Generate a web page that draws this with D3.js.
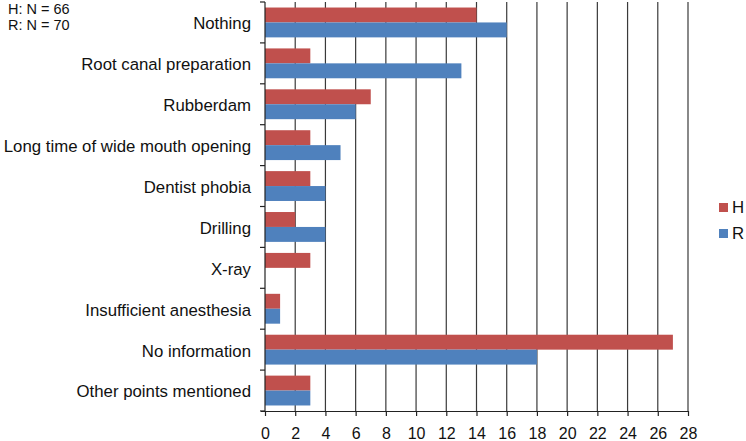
<!DOCTYPE html>
<html><head><meta charset="utf-8">
<script src="https://cdn.jsdelivr.net/npm/d3@7"></script>
<style>body{margin:0;background:#fff}svg{display:block}text{font-family:Arial,"Liberation Sans",sans-serif}</style>
</head><body>
<svg id="c" width="746" height="441"></svg>
<script>
const categories = ["Nothing","Root canal preparation","Rubberdam","Long time of wide mouth opening","Dentist phobia","Drilling","X-ray","Insufficient anesthesia","No information","Other points mentioned"];
const seriesNames = ["H","R"];
const valuesH = [14,3,7,3,3,2,3,1,27,3];
const valuesR = [16,13,6,5,4,4,0,1,18,3];
const xTicks = [0,2,4,6,8,10,12,14,16,18,20,22,24,26,28];
const notes = ["H: N = 66","R: N = 70"];
const colors = {H:"#C0504D", R:"#4F81BD"};

(function(){
const svg = d3.select("#c");
const pL = 265, pR = 688, pT = 2, pB = 411;
const x = d3.scaleLinear().domain([0,28]).range([pL,pR]);
const y = d3.scaleBand().domain(categories).range([pT,pB]).paddingInner(0.27).paddingOuter(0.135);
const inner = d3.scaleBand().domain(seriesNames).range([0,y.bandwidth()]);

svg.append("g").selectAll("line").data(xTicks.slice(1)).join("line")
  .attr("x1",d=>x(d)).attr("x2",d=>x(d)).attr("y1",pT).attr("y2",pB)
  .attr("stroke","#3a3a3a").attr("stroke-width",1.2);

const data = categories.map((c,i)=>({c, H:valuesH[i], R:valuesR[i]}));
const g = svg.append("g");
seriesNames.forEach(s=>{
  g.selectAll(".b"+s).data(data).join("rect").attr("class","b"+s)
    .attr("x",x(0)).attr("y",d=>y(d.c)+inner(s))
    .attr("width",d=>x(d[s])-x(0)).attr("height",inner.bandwidth())
    .attr("fill",colors[s]);
});

const xa = svg.append("g").attr("transform",`translate(0,${pB})`)
  .call(d3.axisBottom(x).tickValues(xTicks).tickSize(5).tickPadding(12));
xa.select(".domain").attr("stroke","#222").attr("stroke-width",1.2).attr("d",`M${pL-4},0.5H${pR}`);
xa.selectAll(".tick line").attr("stroke","#222").attr("stroke-width",1.2);
xa.selectAll("text").attr("font-size",16).attr("fill","#111").attr("font-family","Arial,'Liberation Sans',sans-serif");

const yg = svg.append("g");
yg.append("line").attr("x1",pL).attr("x2",pL).attr("y1",pT).attr("y2",pB).attr("stroke","#222").attr("stroke-width",1.2);
const bounds = d3.range(categories.length+1).map(i=>pT+i*(pB-pT)/categories.length);
yg.selectAll(".bt").data(bounds).join("line").attr("class","bt")
  .attr("x1",pL-5).attr("x2",pL).attr("y1",d=>d).attr("y2",d=>d).attr("stroke","#222").attr("stroke-width",1.2);
yg.selectAll(".lab").data(categories).join("text").attr("class","lab")
  .attr("x",251).attr("y",d=>y(d)+y.bandwidth()/2+1).attr("dy","0.35em")
  .attr("text-anchor","end").attr("font-size",16.8).attr("fill","#111").text(d=>d);

svg.selectAll(".note").data(notes).join("text").attr("class","note")
  .attr("x",8).attr("y",(d,i)=>14+i*16).attr("font-size",14.5).attr("fill","#111").text(d=>d);

const lg = svg.append("g");
seriesNames.forEach((s,i)=>{
  lg.append("rect").attr("x",719).attr("y",203+i*26).attr("width",9).attr("height",9).attr("fill",colors[s]);
  lg.append("text").attr("x",732).attr("y",207.5+i*26).attr("dy","0.35em").attr("font-size",16.8).attr("fill","#111").text(s);
});
})();
</script>
</body></html>
